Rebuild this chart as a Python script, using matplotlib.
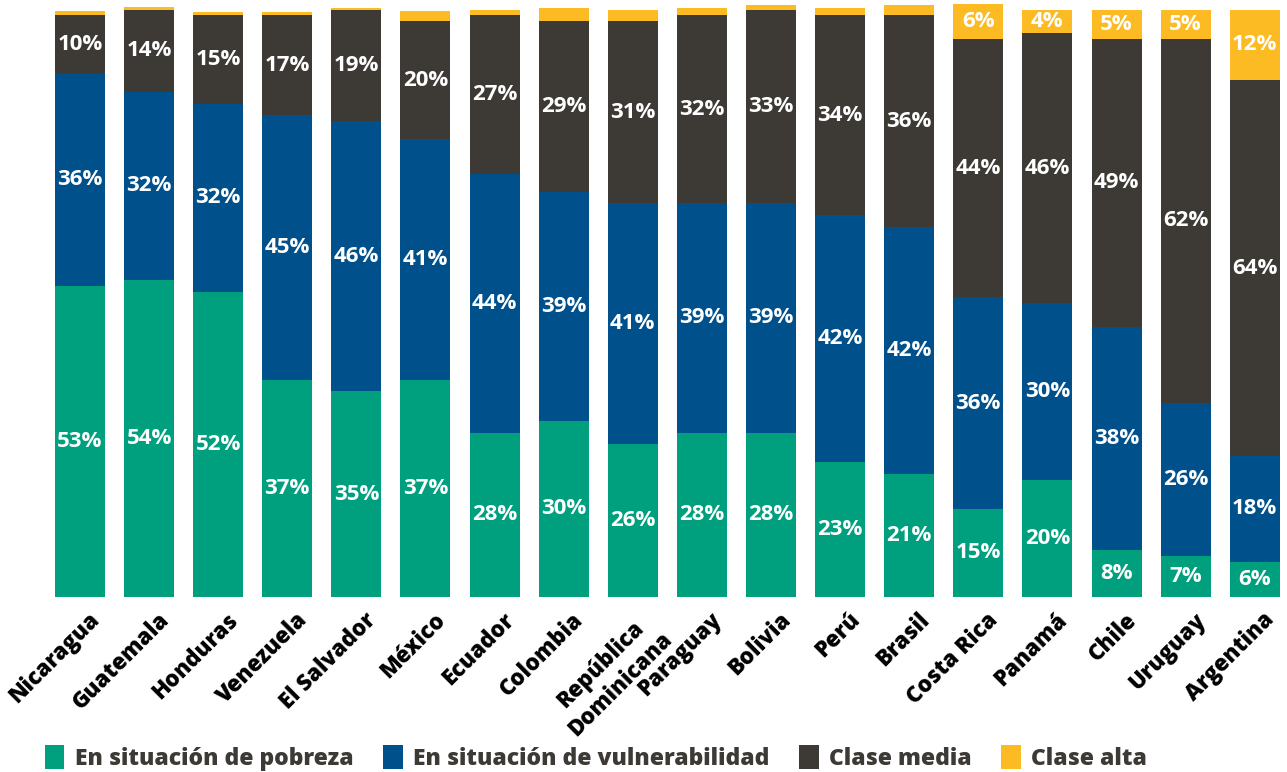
import matplotlib
matplotlib.use("Agg")
import matplotlib.pyplot as plt
import matplotlib.transforms as mtransforms
from matplotlib.patches import Patch
import numpy as np

plt.rcParams['font.family'] = ['Open Sans', 'DejaVu Sans']

countries = ["Nicaragua", "Guatemala", "Honduras", "Venezuela", "El Salvador",
             "México", "Ecuador", "Colombia", "República\nDominicana", "Paraguay",
             "Bolivia", "Perú", "Brasil", "Costa Rica", "Panamá", "Chile",
             "Uruguay", "Argentina"]

pobreza = [53, 54, 52, 37, 35, 37, 28, 30, 26, 28, 28, 23, 21, 15, 20, 8, 7, 6]
vulnerabilidad = [36, 32, 32, 45, 46, 41, 44, 39, 41, 39, 39, 42, 42, 36, 30, 38, 26, 18]
media = [10, 14, 15, 17, 19, 20, 27, 29, 31, 32, 33, 34, 36, 44, 46, 49, 62, 64]
alta = [0.7, 0.4, 0.5, 0.5, 0.3, 1.7, 0.9, 2.2, 2.0, 1.3, 0.7, 1.2, 1.8, 6, 4, 5, 5, 12]
alta_labeled = [False] * 13 + [True] * 5

series_names = ["En situación de pobreza", "En situación de vulnerabilidad",
                "Clase media", "Clase alta"]
colors = ["#00A07F", "#00508C", "#3D3935", "#FDBB23"]

W, H = 1287, 772
fig = plt.figure(figsize=(W / 100, H / 100), dpi=100)

# axes placement in pixels
x0_px, step_px = 80, 69.1
left_px = x0_px - step_px / 2
bottom_px, top_px = 597, 9.5
ax = fig.add_axes([left_px / W, (H - bottom_px) / H,
                   18 * step_px / W, (bottom_px - top_px) / H])

x = np.arange(len(countries))
bar_w = 50 / step_px
data = [pobreza, vulnerabilidad, media, alta]
bottom = np.zeros(len(countries))
for si, (vals, col) in enumerate(zip(data, colors)):
    vals = np.array(vals, dtype=float)
    bars = ax.bar(x, vals, bar_w, bottom=bottom, color=col, linewidth=0)
    for b in bars:
        b.set_clip_on(False)
    for i, v in enumerate(vals):
        if si == 3 and not alta_labeled[i]:
            continue
        ax.text(x[i], bottom[i] + v / 2, f"{v:.0f}%", ha="center", va="center",
                color="white", fontsize=16, fontweight="bold")
    bottom += vals

ax.set_xlim(-0.5, 17.5)
ax.set_ylim(0, 100)
for s in ax.spines.values():
    s.set_visible(False)
ax.set_yticks([])
ax.set_xticks(x)
ax.set_xticklabels(countries, rotation=45, ha="right", va="top",
                   rotation_mode="anchor", fontsize=16, fontweight=800,
                   color="black", multialignment="center")
ax.tick_params(axis="x", length=0, pad=8)
offset = mtransforms.ScaledTranslation(8 / 100, 0, fig.dpi_scale_trans)
for lbl in ax.get_xticklabels():
    lbl.set_transform(lbl.get_transform() + offset)

handles = [Patch(facecolor=c, edgecolor="none", label=n)
           for c, n in zip(colors, series_names)]
leg = fig.legend(handles=handles, loc="center", ncol=4,
                 bbox_to_anchor=(596 / W, 1 - 758 / H), frameon=False,
                 fontsize=16.5, handlelength=0.85, handleheight=1.2,
                 handletextpad=0.45, columnspacing=1.3, borderaxespad=0)
for t in leg.get_texts():
    t.set_color("#3D3935")
    t.set_fontweight(800)

fig.savefig("out.png", dpi=100)
